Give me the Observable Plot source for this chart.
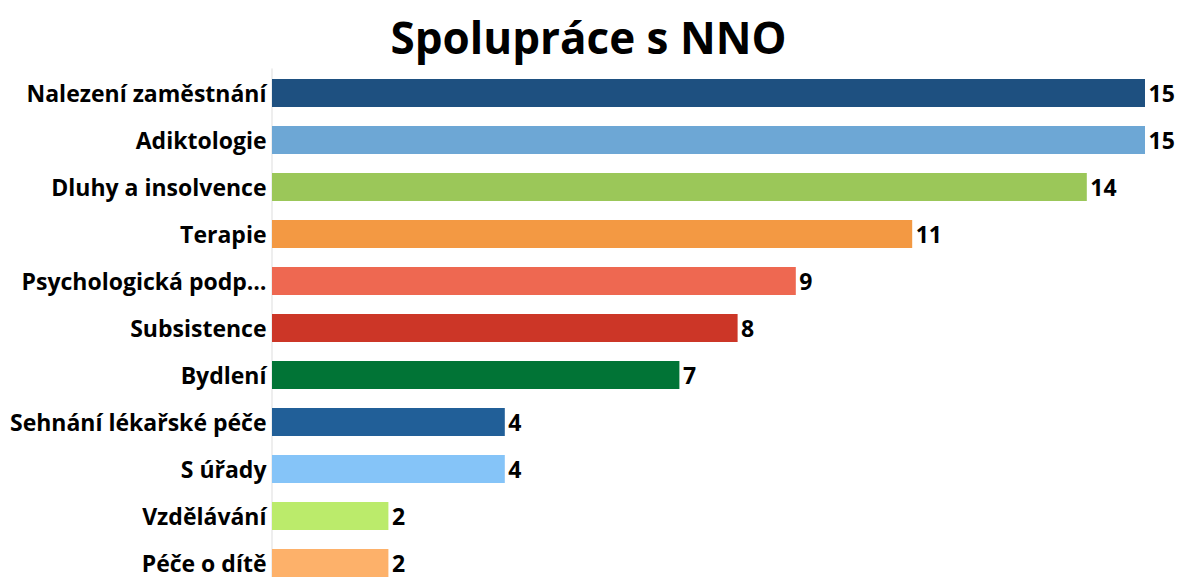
<!DOCTYPE html>
<html>
<head>
<meta charset="utf-8">
<script src="https://cdn.jsdelivr.net/npm/d3@7"></script>
<script src="https://cdn.jsdelivr.net/npm/@observablehq/plot@0.6"></script>
<style>
  html, body { margin: 0; padding: 0; background: #fff; overflow: hidden; }
  #title { height: 68px; box-sizing: border-box; padding-top: 3px; font-family: "Open Sans", sans-serif; font-weight: 700; font-size: 44px; text-align: center; line-height: 68px; color: #000; overflow: hidden; }
  #chart svg { display: block; }
</style>
</head>
<body>
<div id="title">Spolupráce s NNO</div>
<div id="chart"></div>
<script>
const categories = [
  "Nalezení zaměstnání",
  "Adiktologie",
  "Dluhy a insolvence",
  "Terapie",
  "Psychologická podp…",
  "Subsistence",
  "Bydlení",
  "Sehnání lékařské péče",
  "S úřady",
  "Vzdělávání",
  "Péče o dítě"
];
const values = [15, 15, 14, 11, 9, 8, 7, 4, 4, 2, 2];
const colors = ["#1e5080", "#6da7d5", "#9bc759", "#f39943", "#ee6851", "#cc3627", "#017436", "#215f98", "#85c4f8", "#bbeb6b", "#fdb16a"];

const data = categories.map((c, i) => ({category: c, value: values[i]}));

const chart = Plot.plot({
  width: 1177,
  height: 520,
  marginLeft: 272,
  marginRight: 32,
  marginTop: 0.6,
  marginBottom: 0,
  style: {fontFamily: "'Open Sans', sans-serif", background: "#fff"},
  x: {domain: [0, 15], axis: null},
  y: {domain: categories, paddingInner: 0.4, paddingOuter: 0.2, axis: null},
  color: {domain: categories, range: colors},
  marks: [
    Plot.ruleX([0], {stroke: "#e8e8e8", strokeWidth: 1.5, dx: -0.5}),
    Plot.barX(data, {x: "value", y: "category", fill: "category"}),
    Plot.text(data, {x: 0, y: "category", text: "category", textAnchor: "end", dx: -6, dy: 1.5, fontSize: 23, fontWeight: 700, fill: "#000"}),
    Plot.text(data, {x: "value", y: "category", text: d => String(d.value), textAnchor: "start", dx: 3, dy: 1.5, fontSize: 23, fontWeight: 700, fill: "#000"})
  ]
});
document.getElementById("chart").appendChild(chart);
</script>
</body>
</html>
